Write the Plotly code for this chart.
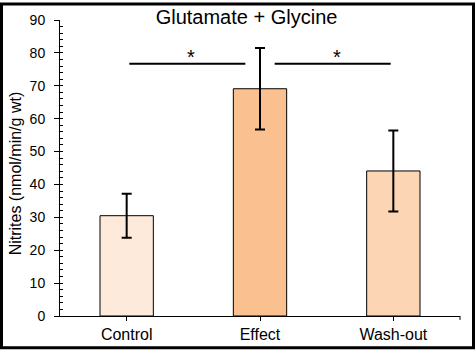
import plotly.graph_objects as go

# ---- data ----
categories = ["Control", "Effect", "Wash-out"]
values = [30.5, 69.1, 44.1]
errors = [6.7, 12.4, 12.3]
bar_colors = ["#FDEADA", "#FAC08F", "#FCD5B4"]
sig_pairs = [(0, 1), (1, 2)]
sig_labels = ["*", "*"]
sig_level = 76.7
y_ticks = [0, 10, 20, 30, 40, 50, 60, 70, 80, 90]

FONT = "Liberation Sans, Arial, sans-serif"
W, H = 475, 355
ML, MR, MT, MB = 60, 15, 18, 34
PW, PH = W - ML - MR, H - MT - MB

def px_x(p):
    return (p - ML) / PW

def px_y(p):
    return (H - MB - p) / PH

fig = go.Figure()
fig.add_trace(go.Bar(
    x=categories, y=values, width=0.4,
    marker=dict(color=bar_colors, line=dict(color="black", width=1)),
    error_y=dict(type="data", array=errors, color="black", thickness=2, width=5),
    showlegend=False,
))
# invisible trace to carry the minor-tick axis
fig.add_trace(go.Scatter(x=[categories[0]], y=[0], yaxis="y2", mode="markers",
                         marker=dict(opacity=0), showlegend=False, hoverinfo="skip"))

top_idx = max(range(len(values)), key=lambda i: values[i])
shapes = []
annotations = []
for (a, b), lab in zip(sig_pairs, sig_labels):
    x0 = a + (0.11 if a == top_idx else 0.02)
    x1 = b - (0.11 if b == top_idx else 0.02)
    shapes.append(dict(type="line", xref="x", yref="y", x0=x0, x1=x1,
                       y0=sig_level, y1=sig_level, line=dict(color="black", width=2)))
    annotations.append(dict(x=(x0 + x1) / 2 + 0.03, y=sig_level, xref="x", yref="y",
                            text=lab, showarrow=False, yanchor="bottom", yshift=-6,
                            font=dict(family=FONT, size=20, color="black")))

# frame around the picture
shapes.append(dict(type="rect", xref="paper", yref="paper",
                   x0=px_x(1.5), x1=px_x(473.5), y0=px_y(353.5), y1=px_y(1.5),
                   line=dict(color="black", width=3)))
# end tick on x axis
shapes.append(dict(type="line", xref="paper", yref="paper", x0=1, x1=1,
                   y0=0, y1=-4 / PH, line=dict(color="black", width=1)))

annotations.append(dict(x=px_x(15.5), y=px_y(175.5), xref="paper", yref="paper",
                        xanchor="center", yanchor="middle",
                        text="Nitrites (nmol/min/g wt)", textangle=-90, showarrow=False,
                        font=dict(family=FONT, size=16, color="black")))

fig.update_layout(
    width=W, height=H,
    margin=dict(l=ML, r=MR, t=MT, b=MB, pad=0),
    paper_bgcolor="white", plot_bgcolor="white",
    font=dict(family=FONT, color="black"),
    title=dict(text="Glutamate + Glycine", x=246.5 / W, xref="container",
               y=1 - 17 / H, yref="container", xanchor="center", yanchor="middle",
               font=dict(family=FONT, size=20, color="black")),
    xaxis=dict(type="category", range=[-0.5, 2.5], showline=True, linecolor="black",
               linewidth=1, ticks="outside", ticklen=4, tickcolor="black",
               showgrid=False, zeroline=False,
               tickfont=dict(family=FONT, size=16, color="black")),
    yaxis=dict(range=[0, 90], tickvals=y_ticks, showline=True, linecolor="black",
               linewidth=1, ticks="outside", ticklen=5, tickcolor="black",
               showgrid=False, zeroline=False, ticklabelstandoff=6,
               tickfont=dict(family=FONT, size=14, color="black")),
    yaxis2=dict(range=[0, 90], overlaying="y", side="left", dtick=2, ticks="inside",
                ticklen=3, tickcolor="black", showticklabels=False, showline=False,
                showgrid=False, zeroline=False),
    shapes=shapes, annotations=annotations,
)

page_fix = (
    "document.documentElement.style.margin='0';"
    "document.body.style.margin='0';"
    "document.body.style.overflow='hidden';"
)

fig.write_html("out.html", config={"displayModeBar": False}, post_script=page_fix)
